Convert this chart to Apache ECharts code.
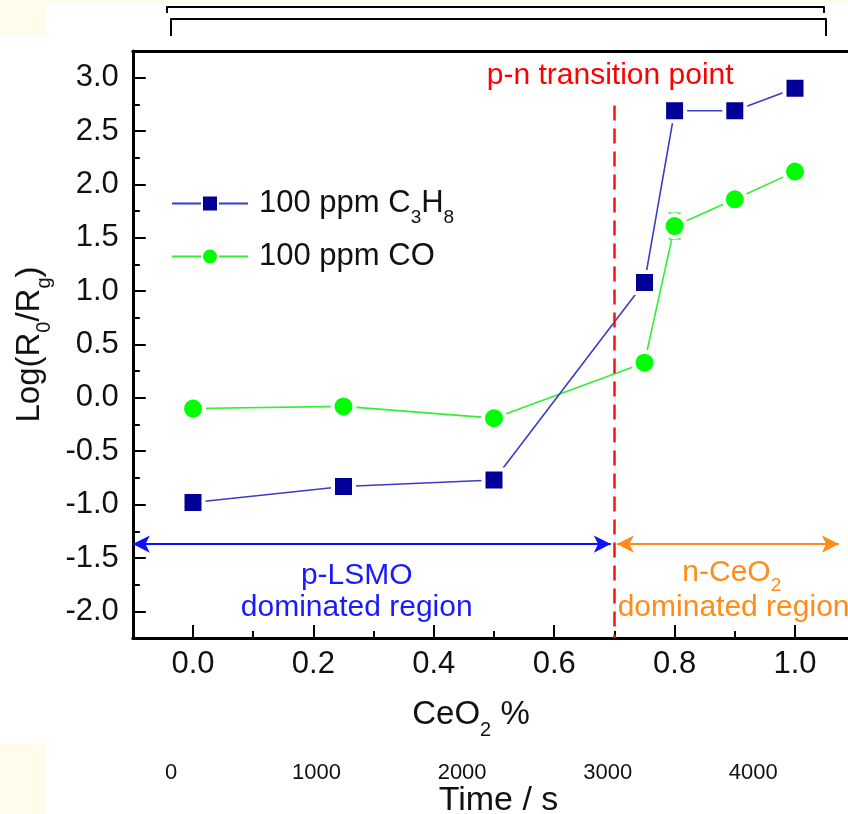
<!DOCTYPE html>
<html>
<head>
<meta charset="utf-8">
<script src="https://cdn.jsdelivr.net/npm/echarts@6/dist/echarts.min.js"></script>
<style>
html, body { margin: 0; padding: 0; background: #fff; }
#main { width: 848px; height: 814px; }
</style>
</head>
<body>
<div id="main"></div>
<script>
// data
var ceo2 = [0, 0.25, 0.5, 0.75, 0.8, 0.9, 1.0];
var c3h8 = [-0.98, -0.83, -0.77, 1.08, 2.69, 2.69, 2.90];
var co = [-0.10, -0.08, -0.19, 0.33, 1.61, 1.86, 2.12];
var coErr = [0.03, 0.03, 0.03, 0.03, 0.12, 0.10, 0.09];
var seriesNames = ['100 ppm C3H8', '100 ppm CO'];
var legendText = ['{n|100 ppm C}{s|3}{n|H}{s|8}', '{n|100 ppm CO}'];

var transitionX = 0.7;
var dashTop = 2.74;
var arrowY = -1.37;
var pRegion = [-0.1, 0.694];
var nRegion = [0.704, 1.073];
var notes = [
    { x: 0.693, y: 3.02, text: '{n|p-n transition point}', color: '#ff0000' },
    { x: 0.272, y: -1.67, text: '{n|p-LSMO}', color: '#1a1aff' },
    { x: 0.272, y: -1.97, text: '{n|dominated region}', color: '#1a1aff' },
    { x: 0.895, y: -1.64, text: '{n|n-CeO}{s|2}', color: '#ff8c1a' },
    { x: 0.898, y: -1.97, text: '{n|dominated region}', color: '#ff8c1a' }
];

var xRange = [-0.1, 1.1];
var yRange = [-2.25, 3.25];
var timeRange = [0, 4500];

// layout
var W = 848, H = 814;
var plotLeft = 132.8, plotRight = 855.2, plotTop = 51, plotBottom = 638;
function px(v) { return plotLeft + (v - xRange[0]) / (xRange[1] - xRange[0]) * (plotRight - plotLeft); }
function py(v) { return plotBottom - (v - yRange[0]) / (yRange[1] - yRange[0]) * (plotBottom - plotTop); }

var font = '"Liberation Sans", Arial, sans-serif';
var subRich = function (size, color) {
    return {
        n: { fontSize: size, fontFamily: font, color: color, lineHeight: Math.round(size * 1.5), verticalAlign: 'middle' },
        s: { fontSize: Math.round(size * 0.62), fontFamily: font, color: color, lineHeight: Math.round(size * 0.62), verticalAlign: 'bottom' }
    };
};
var noZero = { onZero: false };

var mainChart = echarts.init(document.getElementById('main'));

option = {
    backgroundColor: '#ffffff',
    animation: false,
    textStyle: { fontFamily: font },
    graphic: [
        { type: 'rect', shape: { x: 0, y: 0, width: W, height: 4 }, style: { fill: '#fffcec' }, silent: true },
        { type: 'rect', shape: { x: 0, y: 0, width: 46, height: 36 }, style: { fill: '#fffcec' }, silent: true },
        { type: 'rect', shape: { x: 0, y: 744, width: 46, height: 70 }, style: { fill: '#fffcec' }, silent: true }
    ],
    legend: {
        left: 166,
        top: 183,
        orient: 'vertical',
        itemWidth: 76,
        itemHeight: 20,
        itemGap: 14,
        data: seriesNames,
        formatter: function (name) {
            return legendText[seriesNames.indexOf(name)];
        },
        textStyle: { color: '#111', padding: [0, 0, 0, 6], rich: subRich(31, '#111') }
    },
    grid: [
        { left: plotLeft, right: W - plotRight, top: plotTop, bottom: H - plotBottom, outerBoundsMode: 'none' },
        { left: px(0), right: W - px(1), top: py(3), bottom: H - py(-2), outerBoundsMode: 'none' },
        { left: 171, right: 22, top: 19, bottom: 54, outerBoundsMode: 'none' },
        { left: 167, right: 24, top: 7, bottom: 700, outerBoundsMode: 'none' }
    ],
    xAxis: [
        {
            gridIndex: 0, type: 'value', position: 'bottom', min: xRange[0], max: xRange[1], interval: 0.1,
            axisLine: { onZero: false, lineStyle: { color: '#000', width: 3 } },
            axisTick: { inside: true, length: 7, lineStyle: { color: '#000', width: 2 } },
            axisLabel: { show: false }, splitLine: { show: false }
        },
        {
            gridIndex: 0, type: 'value', position: 'top', min: xRange[0], max: xRange[1],
            axisLine: { onZero: false, lineStyle: { color: '#000', width: 3 } },
            axisTick: { show: false }, axisLabel: { show: false }, splitLine: { show: false }
        },
        {
            gridIndex: 1, type: 'value', position: 'bottom', offset: plotBottom - py(-2),
            min: 0, max: 1, interval: 0.2,
            axisLine: { show: false, onZero: false },
            axisTick: { inside: true, length: 13, lineStyle: { color: '#000', width: 2 } },
            axisLabel: { fontSize: 31, color: '#111', margin: 11, formatter: function (v) { return v.toFixed(1); } },
            splitLine: { show: false },
            name: '{n|CeO}{s|2}{n| %}',
            nameLocation: 'middle',
            nameGap: 52,
            nameTextStyle: { fontSize: 33, color: '#111', padding: [0, 46, 0, 0], rich: subRich(33, '#111') }
        },
        {
            gridIndex: 2, type: 'value', position: 'bottom', min: timeRange[0], max: timeRange[1], interval: 1000,
            axisLine: { show: false, onZero: false }, axisTick: { show: false },
            axisLabel: { fontSize: 22, color: '#111', margin: 2, showMaxLabel: false, formatter: function (v) { return String(v); } },
            splitLine: { show: false },
            name: 'Time / s',
            nameLocation: 'middle',
            nameGap: 24,
            nameMoveOverlap: false,
            nameTextStyle: { fontSize: 34, color: '#111' }
        },
        {
            gridIndex: 2, type: 'value', position: 'top', min: timeRange[0], max: timeRange[1], interval: 4500,
            axisLine: { onZero: false, lineStyle: { color: '#000', width: 2 } },
            axisTick: { inside: true, length: 17, lineStyle: { color: '#000', width: 2 } },
            axisLabel: { show: false }, splitLine: { show: false }
        },
        {
            gridIndex: 3, type: 'value', position: 'top', min: 0, max: 1, interval: 1,
            axisLine: { onZero: false, lineStyle: { color: '#000', width: 2 } },
            axisTick: { inside: true, length: 6, lineStyle: { color: '#000', width: 2 } },
            axisLabel: { show: false }, splitLine: { show: false }
        }
    ],
    yAxis: [
        {
            gridIndex: 0, type: 'value', min: yRange[0], max: yRange[1], interval: 0.25,
            axisLine: { onZero: false, lineStyle: { color: '#000', width: 3 } },
            axisTick: { inside: true, length: 7, lineStyle: { color: '#000', width: 2 } },
            axisLabel: { show: false }, splitLine: { show: false }
        },
        {
            gridIndex: 1, type: 'value', min: -2, max: 3, interval: 0.5, offset: px(0) - plotLeft,
            axisLine: { show: false, onZero: false },
            axisTick: { inside: true, length: 13, lineStyle: { color: '#000', width: 2 } },
            axisLabel: { fontSize: 31, color: '#111', margin: 14, formatter: function (v) { return v.toFixed(1); } },
            splitLine: { show: false },
            name: '{n|Log(R}{s|0}{n|/R}{s|g}{n|)}',
            nameLocation: 'middle',
            nameGap: 70,
            nameTextStyle: { fontSize: 33, color: '#111', rich: subRich(33, '#111') }
        },
        { gridIndex: 2, type: 'value', show: false, axisLine: noZero },
        { gridIndex: 3, type: 'value', show: false, axisLine: noZero }
    ],
    series: [
        {
            type: 'custom',
            name: 'CO error',
            xAxisIndex: 0, yAxisIndex: 0,
            z: 1,
            silent: true,
            data: ceo2.map(function (x, i) { return [x, co[i] - coErr[i], co[i] + coErr[i]]; }),
            encode: { x: 0, y: [1, 2] },
            renderItem: function (params, api) {
                var top = api.coord([api.value(0), api.value(2)]);
                var bot = api.coord([api.value(0), api.value(1)]);
                var st = { stroke: '#22ee22', lineWidth: 1.5 };
                return {
                    type: 'group',
                    children: [
                        { type: 'line', shape: { x1: top[0], y1: top[1], x2: bot[0], y2: bot[1] }, style: st },
                        { type: 'line', shape: { x1: top[0] - 6, y1: top[1], x2: top[0] + 6, y2: top[1] }, style: st },
                        { type: 'line', shape: { x1: bot[0] - 6, y1: bot[1], x2: bot[0] + 6, y2: bot[1] }, style: st }
                    ]
                };
            }
        },
        {
            name: seriesNames[0],
            type: 'line',
            xAxisIndex: 0, yAxisIndex: 0,
            z: 3,
            data: ceo2.map(function (x, i) { return [x, c3h8[i]]; }),
            symbol: 'rect',
            symbolSize: 21,
            itemStyle: { color: '#000099', borderColor: '#ffffff', borderWidth: 4 },
            lineStyle: { color: '#3c3cc4', width: 1.6 },
            markLine: {
                silent: true,
                symbolSize: [13, 17],
                label: { show: false },
                data: [
                    [
                        { coord: [transitionX, dashTop], symbol: 'none', lineStyle: { color: '#ff1010', width: 2.5, type: [15, 8] } },
                        { coord: [transitionX, yRange[0]], symbol: 'none' }
                    ],
                    [
                        { coord: [pRegion[0], arrowY], symbol: 'arrow', lineStyle: { color: '#1010ff', width: 2, type: 'solid' } },
                        { coord: [pRegion[1], arrowY], symbol: 'arrow' }
                    ],
                    [
                        { coord: [nRegion[0], arrowY], symbol: 'arrow', lineStyle: { color: '#ff8c1a', width: 2, type: 'solid' } },
                        { coord: [nRegion[1], arrowY], symbol: 'arrow' }
                    ]
                ]
            }
        },
        {
            name: seriesNames[1],
            type: 'line',
            xAxisIndex: 0, yAxisIndex: 0,
            z: 2,
            data: ceo2.map(function (x, i) { return [x, co[i]]; }),
            symbol: 'circle',
            symbolSize: 22,
            itemStyle: { color: '#00ff00', borderColor: '#ffffff', borderWidth: 4 },
            lineStyle: { color: '#33ee33', width: 1.6 },
            markPoint: {
                silent: true,
                symbol: 'circle',
                symbolSize: 0,
                data: notes.map(function (n) {
                    return {
                        coord: [n.x, n.y],
                        label: {
                            show: true, position: 'inside', formatter: n.text, color: n.color, fontSize: 30,
                            rich: subRich(30, n.color)
                        }
                    };
                })
            }
        }
    ]
};

mainChart.setOption(option);
</script>
</body>
</html>
